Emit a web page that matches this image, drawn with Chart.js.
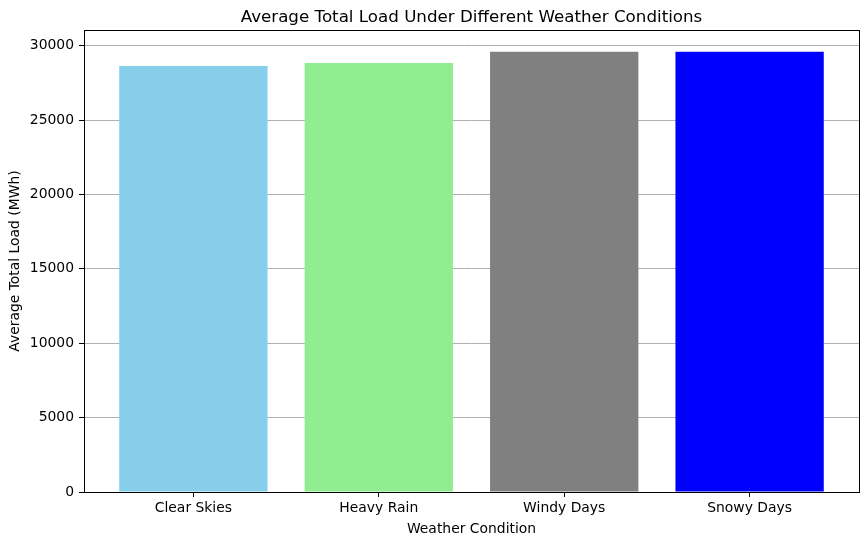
<!DOCTYPE html>
<html>
<head>
<meta charset="utf-8">
<script src="https://cdn.jsdelivr.net/npm/chart.js@4"></script>
<style>
html,body{margin:0;padding:0;background:#fff;}
#wrap{width:868px;height:545px;position:relative;}
</style>
</head>
<body>
<div id="wrap"><canvas id="c" width="868" height="545"></canvas></div>
<script>
const categories = ["Clear Skies", "Heavy Rain", "Windy Days", "Snowy Days"];
const loadValues = [28630, 28830, 29580, 29590];
const barColors = ["#87ceeb", "#90ee90", "#808080", "#0000ff"];
const yTicks = [0, 5000, 10000, 15000, 20000, 25000, 30000];
const chartTitle = "Average Total Load Under Different Weather Conditions";
const xTitle = "Weather Condition";
const yTitle = "Average Total Load (MWh)";

const FONT = "'DejaVu Sans', sans-serif";
const FS = 13.9;

const framePlugin = {
  id: 'frame',
  afterDraw(chart) {
    const {ctx, chartArea: a} = chart;
    ctx.save();
    ctx.strokeStyle = '#000';
    ctx.lineWidth = 1;
    ctx.strokeRect(Math.round(a.left) + 0.5, Math.round(a.top) + 0.5, Math.round(a.right - a.left), Math.round(a.bottom - a.top));
    ctx.fillStyle = '#000';
    ctx.font = "16.7px " + FONT;
    ctx.textAlign = 'center';
    ctx.textBaseline = 'alphabetic';
    ctx.fillText(chartTitle, (a.left + a.right) / 2, 22);
    ctx.restore();
  }
};

new Chart(document.getElementById('c'), {
  type: 'bar',
  data: {
    datasets: [{
      data: categories.map((c, i) => ({x: i, y: loadValues[i]})),
      backgroundColor: barColors,
      borderWidth: 0,
      barPercentage: 0.8,
      categoryPercentage: 1.0
    }]
  },
  options: {
    responsive: false,
    animation: false,
    devicePixelRatio: 1,
    layout: {padding: {top: 30, right: 9, left: 0, bottom: 0}},
    plugins: {legend: {display: false}, title: {display: false}, tooltip: {enabled: false}},
    scales: {
      x: {
        type: 'linear',
        offset: false,
        min: -0.59, max: 3.59,
        afterBuildTicks(s) { s.ticks = categories.map((c, i) => ({value: i})); },
        afterFit(s) { s.height = 53; },
        ticks: {
          callback: (v) => categories[v],
          color: '#000', font: {family: FONT, size: FS}, padding: 3, maxRotation: 0, autoSkip: false
        },
        grid: {display: true, offset: false, drawOnChartArea: false, tickColor: '#000', tickLength: 5},
        border: {display: false},
        title: {display: true, text: xTitle, color: '#000', font: {family: FONT, size: FS}, padding: {top: 0, bottom: 7}}
      },
      y: {
        min: 0, max: 31050,
        afterBuildTicks(s) { s.ticks = yTicks.map(v => ({value: v})); },
        afterFit(s) { s.width = 84; },
        ticks: {color: '#000', font: {family: FONT, size: FS}, padding: 5, callback: v => String(v)},
        grid: {color: '#b0b0b0', lineWidth: 1, tickColor: '#000', tickLength: 5},
        border: {display: false},
        title: {display: true, text: yTitle, color: '#000', font: {family: FONT, size: FS}, padding: {top: 7, bottom: 0}}
      }
    }
  },
  plugins: [framePlugin]
});
</script>
</body>
</html>
